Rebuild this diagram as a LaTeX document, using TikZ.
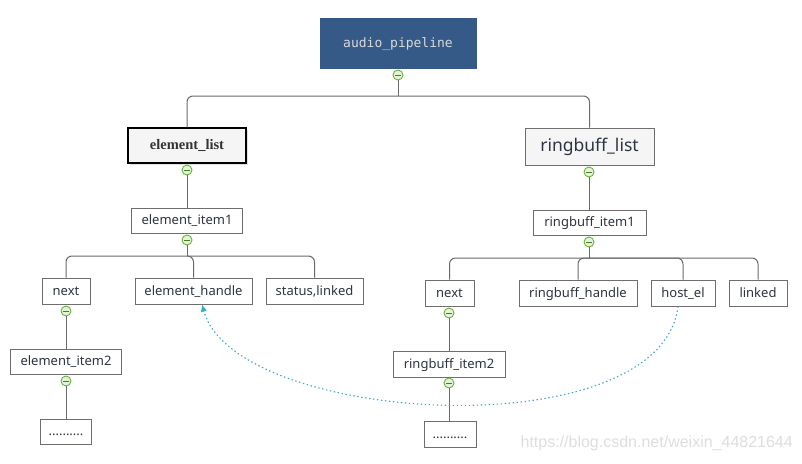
\documentclass[tikz,border=0pt]{standalone}
\usepackage{fontspec}
\setmainfont{Noto Sans}
\newfontfamily\serifbold{Liberation Serif}
\newfontfamily\monof{DejaVu Sans Mono}
\newfontfamily\wmfont{Liberation Sans}
\usetikzlibrary{arrows.meta,shadows}
\definecolor{apblue}{HTML}{365A87}
\definecolor{boxgray}{HTML}{6E6E6E}
\definecolor{linegray}{HTML}{6A6A6A}
\definecolor{txt}{HTML}{2E3440}
\definecolor{mkgreen}{HTML}{6AB23E}
\definecolor{mkfill}{HTML}{E4F3D8}
\definecolor{dotblue}{HTML}{3AA8C8}
\tikzset{
  box/.style={draw=boxgray, fill=white, line width=1pt, inner sep=0pt, text=txt,
    font=\fontsize{13}{15}\selectfont, minimum height=25pt, text height=10pt, text depth=2pt},
  conn/.style={draw=linegray, line width=1pt},
  bus/.style={conn, rounded corners=6pt},
  mk/.style={circle, draw=mkgreen, fill=mkfill, line width=0.9pt, minimum size=10pt, inner sep=0pt,
    path picture={\draw[mkgreen!70!black, line width=1pt]
      ([xshift=-3pt]path picture bounding box.center) -- ([xshift=3pt]path picture bounding box.center);}},
  dotarr/.style={draw=dotblue, line width=1.1pt, dash pattern=on 1.4pt off 2.6pt,
    -{Latex[length=7pt,width=6.5pt]}},
}
\begin{document}
\begin{tikzpicture}[x=1pt,y=-1pt]
\useasboundingbox (0,0) rectangle (802,463);
\fill[white] (0,0) rectangle (802,463);

% root
\node[box, fill=apblue, draw=apblue, text=white!85!black, font=\monof\fontsize{13}{15}\selectfont,
  minimum width=156pt, minimum height=50pt] (ap) at (398,43) {audio\_pipeline};
\node[mk] (c0) at (398,75) {};
\coordinate (b0) at (398,96);

% level 1
\node[box, fill=black!4, draw=black, line width=1.2pt, font=\serifbold\bfseries\fontsize{14.5}{16}\selectfont,
  text=black!80, minimum width=118pt, minimum height=35pt,
  drop shadow={shadow xshift=1.5pt, shadow yshift=-1.5pt, opacity=0.25}] (el) at (187,145.5) {element\_list};
\node[box, fill=black!4, font=\fontsize{17.5}{20}\selectfont, text height=13pt, text depth=3pt,
  minimum width=129pt, minimum height=37pt] (rl) at (589.5,146.5) {ringbuff\_list};
\node[mk] (c1) at (187,170) {};
\node[mk] (c5) at (589,172) {};

% left subtree
\node[box, minimum width=111pt] (ei1) at (187,220.5) {element\_item1};
\node[mk] (c2) at (187,240) {};
\coordinate (b2) at (187,256);
\node[box, minimum width=48pt, minimum height=26pt] (nx1) at (66,291) {next};
\node[box, minimum width=117pt, minimum height=26pt] (eh) at (193.5,291) {element\_handle};
\node[box, minimum width=97pt, minimum height=26pt] (sl) at (314.5,291) {status,linked};
\node[mk] (c3) at (66,311) {};
\node[box, minimum width=111pt] (ei2) at (66,361.5) {element\_item2};
\node[mk] (c4) at (66,381) {};
\node[box, minimum width=51pt] (d1) at (66,431.5) {..........};

% right subtree
\node[box, minimum width=113pt] (ri1) at (589.5,222.5) {ringbuff\_item1};
\node[mk] (c6) at (589,242) {};
\coordinate (b3) at (589,258);
\node[box, minimum width=49pt, minimum height=26pt] (nx2) at (449.5,293) {next};
\node[box, minimum width=118pt, minimum height=26pt] (rh) at (578,293) {ringbuff\_handle};
\node[box, minimum width=64pt, minimum height=26pt] (he) at (683,293) {host\_el};
\node[box, minimum width=58pt, minimum height=26pt] (lk) at (758,293) {linked};
\node[mk] (c7) at (449,313) {};
\node[box, minimum width=112pt, minimum height=26pt] (ri2) at (449,364) {ringbuff\_item2};
\node[mk] (c8) at (449,383) {};
\node[box, minimum width=52pt, minimum height=26pt] (d2) at (450,434) {..........};

% connectors
\draw[conn] (c0) -- (b0);
\draw[bus] (b0) -| (el.north);
\draw[bus] (b0) -| (rl.north);
\draw[conn] (c1) -- (ei1.north -| c1);
\draw[conn] (c5) -- (ri1.north -| c5);
\draw[conn] (c2) -- (b2);
\draw[bus] (b2) -| (nx1.north);
\draw[bus] (b2) -| (eh.north);
\draw[bus] (b2) -| (sl.north);
\draw[conn] (c3) -- (ei2.north -| c3);
\draw[conn] (c4) -- (d1.north -| c4);
\draw[conn] (c6) -- (b3);
\draw[bus] (b3) -| (nx2.north);
\draw[bus] (b3) -| (rh.north);
\draw[bus] (b3) -| (he.north);
\draw[bus] (b3) -| (lk.north);
\draw[conn] (c7) -- (ri2.north -| c7);
\draw[conn] (c8) -- (d2.north -| c8);

% dotted reference arrow
\draw[dotarr] ([xshift=-5pt]he.south) .. controls (660,450) and (235,425) .. ([xshift=8.5pt]eh.south);

% watermark
\node[anchor=east, text=black!13, font=\wmfont\fontsize{16}{18}\selectfont, inner sep=0pt] (wm) at (793,443) {https://blog.csdn.net/weixin\_44821644};
\end{tikzpicture}
\end{document}
